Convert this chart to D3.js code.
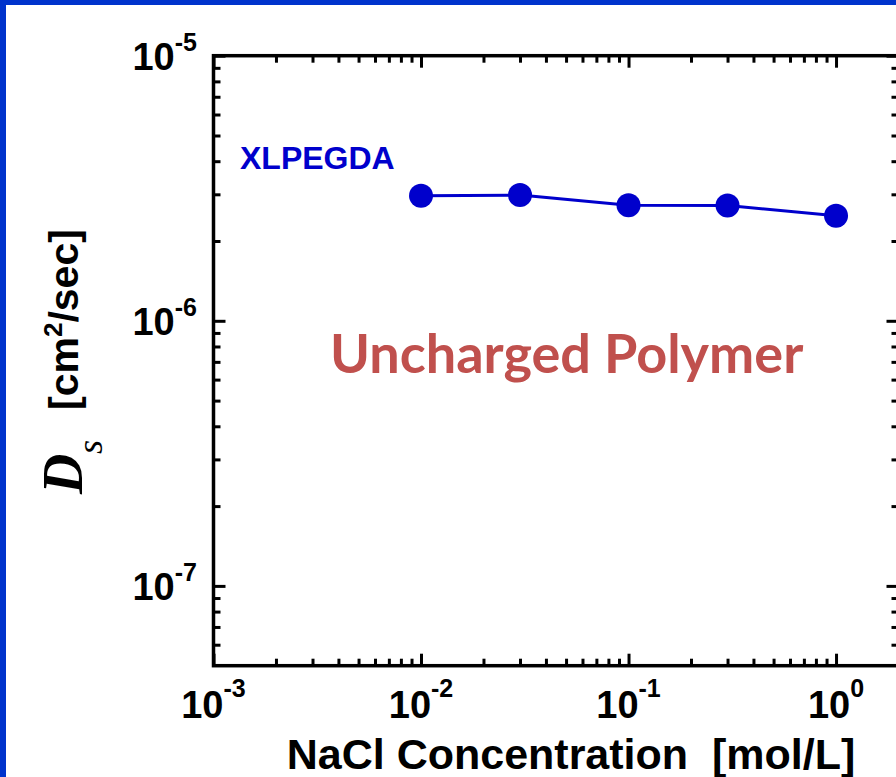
<!DOCTYPE html>
<html>
<head>
<meta charset="utf-8">
<script src="https://cdn.jsdelivr.net/npm/d3@7"></script>
<style>
  body { margin: 0; background: #fff; }
  svg { display: block; }
</style>
</head>
<body>
<script>
// Salt diffusion coefficient vs. NaCl concentration (XLPEGDA, uncharged)
const concentrations = [0.01, 0.03, 0.1, 0.3, 1];            // mol/L
const diffusivity    = [2.96e-6, 2.98e-6, 2.73e-6, 2.72e-6, 2.49e-6]; // cm^2/sec
const xTickExponents = [-3, -2, -1, 0];
const yTickExponents = [-7, -6, -5];
const seriesName = "XLPEGDA";
const annotation = "Uncharged Polymer";
const xTitle = "NaCl Concentration  [mol/L]";

const W = 896, H = 777;
const BLUE = "#0000CC";
const FRAME_BLUE = "#0033CC";
const SANS = "'Liberation Sans', Arial, sans-serif";
const SERIF = "'Liberation Serif', 'Times New Roman', serif";

const svg = d3.select("body").append("svg")
  .attr("width", W).attr("height", H);

svg.append("rect").attr("width", W).attr("height", H).attr("fill", "#fff");
// slide frame (left and top edges)
svg.append("rect").attr("x", 0).attr("y", 0).attr("width", 6).attr("height", H).attr("fill", FRAME_BLUE);
svg.append("rect").attr("x", 0).attr("y", 0).attr("width", W).attr("height", 5).attr("fill", FRAME_BLUE);

const pLeft = 213.5, pRight = 898.5, pTop = 55.7, pBottom = 665.7;
const x = d3.scaleLog().domain([1e-3, 2]).range([pLeft, pRight]);
const y = d3.scaleLog().domain([5e-8, 1e-5]).range([pBottom, pTop]);

const xMajor = xTickExponents.map(e => Math.pow(10, e));
const yMajor = yTickExponents.map(e => Math.pow(10, e));
const isMajor = (v) => Math.abs(Math.log10(v) - Math.round(Math.log10(v))) < 1e-9;
const xMinor = x.ticks().filter(v => !isMajor(v) && v > x.domain()[0] && v < x.domain()[1]);
const yMinor = y.ticks().filter(v => !isMajor(v) && v > y.domain()[0] && v < y.domain()[1]);

function styleAxis(g) {
  g.select(".domain").remove();
  g.selectAll(".tick line").attr("stroke", "#000").attr("stroke-width", 3);
  g.selectAll(".tick text").remove();
}

// inward ticks on all four sides
const MAJ = 12, MIN = 7;
[[xMajor, MAJ], [xMinor, MIN]].forEach(([vals, len]) => {
  svg.append("g").attr("transform", `translate(0,${pBottom})`)
    .call(d3.axisBottom(x).tickValues(vals).tickSize(-len).tickFormat(""))
    .call(styleAxis);
  svg.append("g").attr("transform", `translate(0,${pTop})`)
    .call(d3.axisTop(x).tickValues(vals).tickSize(-len).tickFormat(""))
    .call(styleAxis);
});
[[yMajor, MAJ], [yMinor, MIN]].forEach(([vals, len]) => {
  svg.append("g").attr("transform", `translate(${pLeft},0)`)
    .call(d3.axisLeft(y).tickValues(vals).tickSize(-len).tickFormat(""))
    .call(styleAxis);
  svg.append("g").attr("transform", `translate(${pRight},0)`)
    .call(d3.axisRight(y).tickValues(vals).tickSize(-len).tickFormat(""))
    .call(styleAxis);
});

// plot frame
svg.append("rect")
  .attr("x", pLeft).attr("y", pTop)
  .attr("width", pRight - pLeft).attr("height", pBottom - pTop)
  .attr("fill", "none").attr("stroke", "#000").attr("stroke-width", 3.5);

// x tick labels: 10^n
xTickExponents.forEach(e => {
  const t = svg.append("text")
    .attr("x", x(Math.pow(10, e))).attr("y", pBottom + 52)
    .attr("text-anchor", "middle")
    .attr("font-family", SANS).attr("font-weight", "bold").attr("font-size", 38)
    .attr("fill", "#000");
  t.append("tspan").text("10");
  t.append("tspan").attr("dy", -21).attr("font-size", 25).text(String(e));
});

// y tick labels: 10^n
yTickExponents.forEach(e => {
  const t = svg.append("text")
    .attr("x", 197).attr("y", y(Math.pow(10, e)) + 14)
    .attr("text-anchor", "end")
    .attr("font-family", SANS).attr("font-weight", "bold").attr("font-size", 38)
    .attr("fill", "#000");
  t.append("tspan").text("10");
  t.append("tspan").attr("dy", -19).attr("font-size", 25).text(String(e));
});

// x axis title
svg.append("text")
  .attr("x", 571).attr("y", 769)
  .attr("text-anchor", "middle")
  .style("white-space", "pre")
  .attr("font-family", SANS).attr("font-weight", "bold").attr("font-size", 43)
  .attr("fill", "#000")
  .text(xTitle);

// y axis title: D_s [cm^2/sec], rotated
const yt = svg.append("g").attr("transform", "translate(82,0) rotate(-90)");
yt.append("text")
  .attr("x", -494).attr("y", 0)
  .attr("font-family", SERIF).attr("font-weight", "bold").attr("font-style", "italic")
  .attr("font-size", 56).attr("fill", "#000")
  .text("D");
yt.append("text")
  .attr("x", -454).attr("y", 20)
  .attr("font-family", SERIF).attr("font-style", "italic")
  .attr("font-size", 36).attr("fill", "#000")
  .text("s");
const yb = yt.append("text")
  .attr("x", -410).attr("y", -4)
  .attr("font-family", SANS).attr("font-weight", "bold")
  .attr("font-size", 41).attr("fill", "#000");
yb.append("tspan").text("[cm");
yb.append("tspan").attr("dy", -16).attr("font-size", 26).text("2");
yb.append("tspan").attr("dy", 16).text("/sec]");

// data series
const pts = concentrations.map((c, i) => [c, diffusivity[i]]);
svg.append("path")
  .datum(pts)
  .attr("fill", "none").attr("stroke", BLUE).attr("stroke-width", 3)
  .attr("d", d3.line().x(d => x(d[0])).y(d => y(d[1])));
svg.selectAll("circle.pt").data(pts).enter().append("circle")
  .attr("class", "pt")
  .attr("cx", d => x(d[0])).attr("cy", d => y(d[1]))
  .attr("r", 12).attr("fill", BLUE);

// series label and annotation
svg.append("text")
  .attr("x", 240).attr("y", 169)
  .attr("font-family", SANS).attr("font-weight", "bold").attr("font-size", 32)
  .attr("fill", BLUE).text(seriesName);

svg.append("text")
  .attr("x", 330).attr("y", 373)
  .attr("font-family", "Lato, 'Open Sans', sans-serif").attr("font-weight", "bold").attr("font-size", 54)
  .attr("fill", "#C0504D").text(annotation);
</script>
</body>
</html>
